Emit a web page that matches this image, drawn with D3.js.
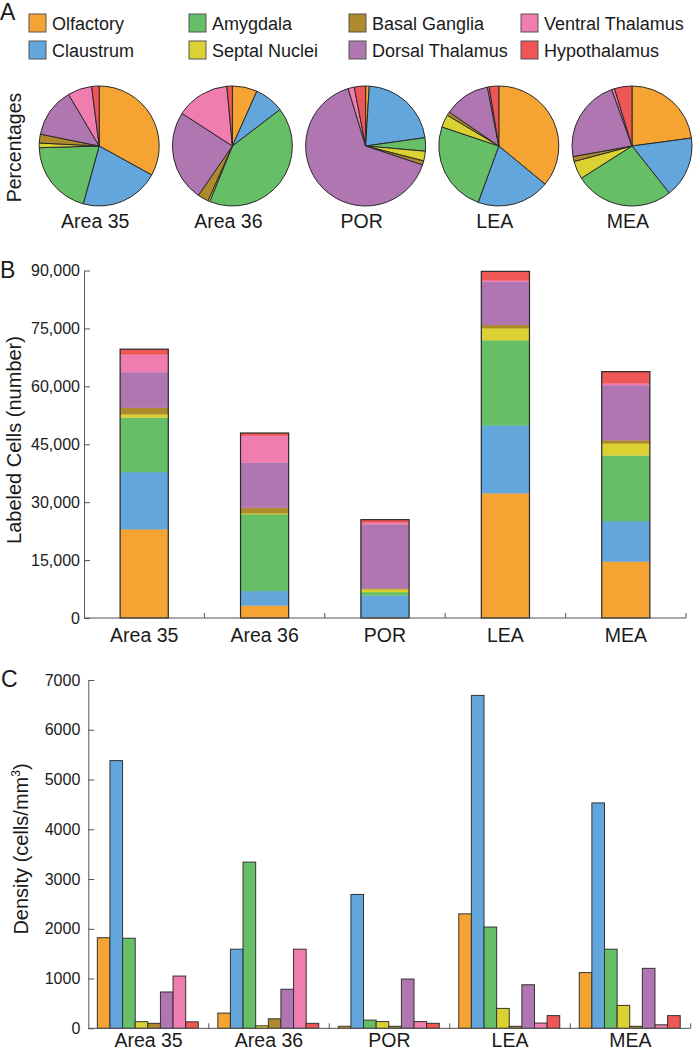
<!DOCTYPE html>
<html>
<head>
<meta charset="utf-8">
<script src="https://cdn.jsdelivr.net/npm/d3@7/dist/d3.min.js"></script>
<style>
  html, body { margin: 0; padding: 0; background: #fff; }
  svg { display: block; font-family: "Liberation Sans", Arial, sans-serif; }
</style>
</head>
<body>
<svg id="fig" width="693" height="1050"></svg>
<script>
// ---------- data ----------
const regions = ["Area 35", "Area 36", "POR", "LEA", "MEA"];
const series = ["Olfactory", "Claustrum", "Amygdala", "Septal Nuclei",
                "Basal Ganglia", "Dorsal Thalamus", "Ventral Thalamus", "Hypothalamus"];
const colors = ["#F5A333", "#62A6DC", "#66BE66", "#DCD132",
                "#AE8A2C", "#B076B1", "#EF7DB0", "#EF5656"];

// Labeled cell counts (panel B, and percentages for panel A), per region, in series order
const countsArea35 = [23000, 14800, 14100, 870, 1650, 9250, 4550, 1400];
const countsArea36 = [3200, 3800, 19900, 250, 1400, 11750, 6900, 700];
const countsPOR    = [250, 5550, 920, 670, 280, 16600, 430, 770];
const countsLEA    = [32300, 17600, 22050, 3100, 850, 11150, 430, 2300];
const countsMEA    = [14600, 10500, 17000, 3100, 850, 14250, 500, 3000];

// Density (cells/mm^3), panel C
const densityArea35 = [1820, 5380, 1810, 133, 100, 730, 1050, 130];
const densityArea36 = [305, 1590, 3340, 50, 190, 785, 1590, 100];
const densityPOR    = [40, 2690, 165, 135, 40, 990, 135, 100];
const densityLEA    = [2300, 6690, 2035, 400, 40, 875, 105, 255];
const densityMEA    = [1120, 4530, 1590, 460, 40, 1205, 70, 255];

const countTicks = [0, 15000, 30000, 45000, 60000, 75000, 90000];
const densityTicks = [0, 1000, 2000, 3000, 4000, 5000, 6000, 7000];

const counts = [countsArea35, countsArea36, countsPOR, countsLEA, countsMEA];
const density = [densityArea35, densityArea36, densityPOR, densityLEA, densityMEA];

// ---------- setup ----------
const svg = d3.select("#fig");
const color = d3.scaleOrdinal().domain(series).range(colors);
const TXT = "#1a1a1a", AX = "#555", EDGE = "#2a2a2a";

function panelLetter(t, x, y) {
  svg.append("text").attr("x", x).attr("y", y).attr("font-size", 23)
    .attr("fill", TXT).text(t);
}

// ---------- Panel A: legend ----------
panelLetter("A", 0, 20);
const legX = [29, 189, 349, 521];
const legY = [23, 50];
const leg = svg.append("g");
series.forEach((s, i) => {
  const col = Math.floor(i / 2), row = i % 2;
  const g = leg.append("g").attr("transform", `translate(${legX[col]},${legY[row]})`);
  g.append("rect").attr("x", 0).attr("y", -9).attr("width", 17).attr("height", 18)
    .attr("fill", color(s)).attr("stroke", "#555").attr("stroke-width", 1);
  g.append("text").attr("x", 23).attr("y", 6.5).attr("font-size", 18)
    .attr("fill", TXT).text(s);
});

// ---------- Panel A: pies ----------
const pieX = d3.scaleBand().domain(regions).range([32.6, 698.6]);
const pieCY = 146, pieR = 60;
const pie = d3.pie().sort(null).value(d => d.v);
const arc = d3.arc().innerRadius(0).outerRadius(pieR);
regions.forEach((r, ri) => {
  const data = series.map((s, i) => ({ s, v: counts[ri][i] }));
  const cx = pieX(r) + pieX.bandwidth() / 2;
  const g = svg.append("g").attr("transform", `translate(${cx},${pieCY})`);
  g.selectAll("path").data(pie(data)).join("path")
    .attr("d", arc).attr("fill", d => color(d.data.s))
    .attr("stroke", EDGE).attr("stroke-width", 1).attr("stroke-linejoin", "round");
  svg.append("text").attr("x", cx - 4).attr("y", 228).attr("text-anchor", "middle")
    .attr("font-size", 19.5).attr("fill", TXT).text(r);
});
svg.append("text").attr("transform", "translate(21,147.5) rotate(-90)")
  .attr("text-anchor", "middle").attr("font-size", 19.5).attr("fill", TXT).text("Percentages");

// ---------- Panel B: stacked bars ----------
panelLetter("B", 0, 278);
const xB = d3.scaleBand().domain(regions).range([84, 686]);
const yB = d3.scaleLinear().domain([0, 90000]).range([618, 270.5]);
const stackRows = regions.map((r, ri) => {
  const o = { region: r };
  series.forEach((s, i) => o[s] = counts[ri][i]);
  return o;
});
const stacked = d3.stack().keys(series)(stackRows);
const barW = xB.bandwidth() * 0.4;
const bx = r => xB(r) + (xB.bandwidth() - barW) / 2;
const gB = svg.append("g");
stacked.forEach(layer => {
  gB.selectAll(null).data(layer).join("rect")
    .attr("x", d => bx(d.data.region))
    .attr("width", barW)
    .attr("y", d => yB(d[1]))
    .attr("height", d => yB(d[0]) - yB(d[1]))
    .attr("fill", color(layer.key))
    .attr("stroke", color(layer.key)).attr("stroke-width", 0.3);
});
// outline around each full stack
gB.selectAll(null).data(stackRows).join("rect")
  .attr("x", d => bx(d.region)).attr("width", barW)
  .attr("y", d => yB(d3.sum(series, s => d[s])))
  .attr("height", d => yB(0) - yB(d3.sum(series, s => d[s])))
  .attr("fill", "none").attr("stroke", EDGE).attr("stroke-width", 1.2);

function yAxis(scale, ticks, x, fmt, pad) {
  const g = svg.append("g").attr("transform", `translate(${x},0)`)
    .call(d3.axisLeft(scale).tickValues(ticks).tickFormat(fmt)
      .tickSizeInner(-6).tickSizeOuter(0).tickPadding(pad));
  g.select(".domain").attr("stroke", AX);
  g.selectAll(".tick line").attr("stroke", AX);
  g.selectAll(".tick text").attr("font-size", 16).attr("fill", TXT)
    .attr("font-family", "Liberation Sans, Arial, sans-serif");
}
function xCats(scale, y, labelY) {
  const [x0, x1] = scale.range();
  svg.append("line").attr("x1", x0).attr("x2", x1).attr("y1", y).attr("y2", y)
    .attr("stroke", AX).attr("stroke-width", 1);
  const bounds = scale.domain().map(d => scale(d) + scale.step());
  svg.selectAll(null).data(bounds).join("line")
    .attr("x1", d => d).attr("x2", d => d).attr("y1", y).attr("y2", y - 5)
    .attr("stroke", AX).attr("stroke-width", 1);
  svg.selectAll(null).data(scale.domain()).join("text")
    .attr("x", d => scale(d) + scale.bandwidth() / 2).attr("y", labelY)
    .attr("text-anchor", "middle").attr("font-size", 19.5).attr("fill", TXT).text(d => d);
}
yAxis(yB, countTicks, 84, d3.format(","), 4);
xCats(xB, 618, 641.5);
svg.append("text").attr("transform", "translate(21,440) rotate(-90)")
  .attr("text-anchor", "middle").attr("font-size", 20).attr("fill", TXT)
  .text("Labeled Cells (number)");

// ---------- Panel C: grouped bars ----------
panelLetter("C", 1, 687);
const xC = d3.scaleBand().domain(regions).range([88.3, 690.7]);
const xInner = d3.scaleBand().domain(series)
  .range([xC.bandwidth() * 0.075, xC.bandwidth() * 0.913]);
const yC = d3.scaleLinear().domain([0, 7000]).range([1028.3, 680]);
const gC = svg.append("g");
regions.forEach((r, ri) => {
  gC.selectAll(null).data(series.map((s, i) => ({ s, v: density[ri][i] }))).join("rect")
    .attr("x", d => xC(r) + xInner(d.s))
    .attr("width", xInner.bandwidth())
    .attr("y", d => yC(d.v))
    .attr("height", d => yC(0) - yC(d.v))
    .attr("fill", d => color(d.s))
    .attr("stroke", "#333").attr("stroke-width", 1);
});
yAxis(yC, densityTicks, 88.3, d3.format("d"), 8);
xCats(xC, 1028.3, 1047);
const dt = svg.append("text").attr("transform", "translate(28,849) rotate(-90)")
  .attr("text-anchor", "middle").attr("font-size", 20).attr("fill", TXT);
dt.append("tspan").text("Density (cells/mm");
dt.append("tspan").attr("font-size", 12).attr("dy", -8).text("3");
dt.append("tspan").attr("dy", 8).text(")");
</script>
</body>
</html>
